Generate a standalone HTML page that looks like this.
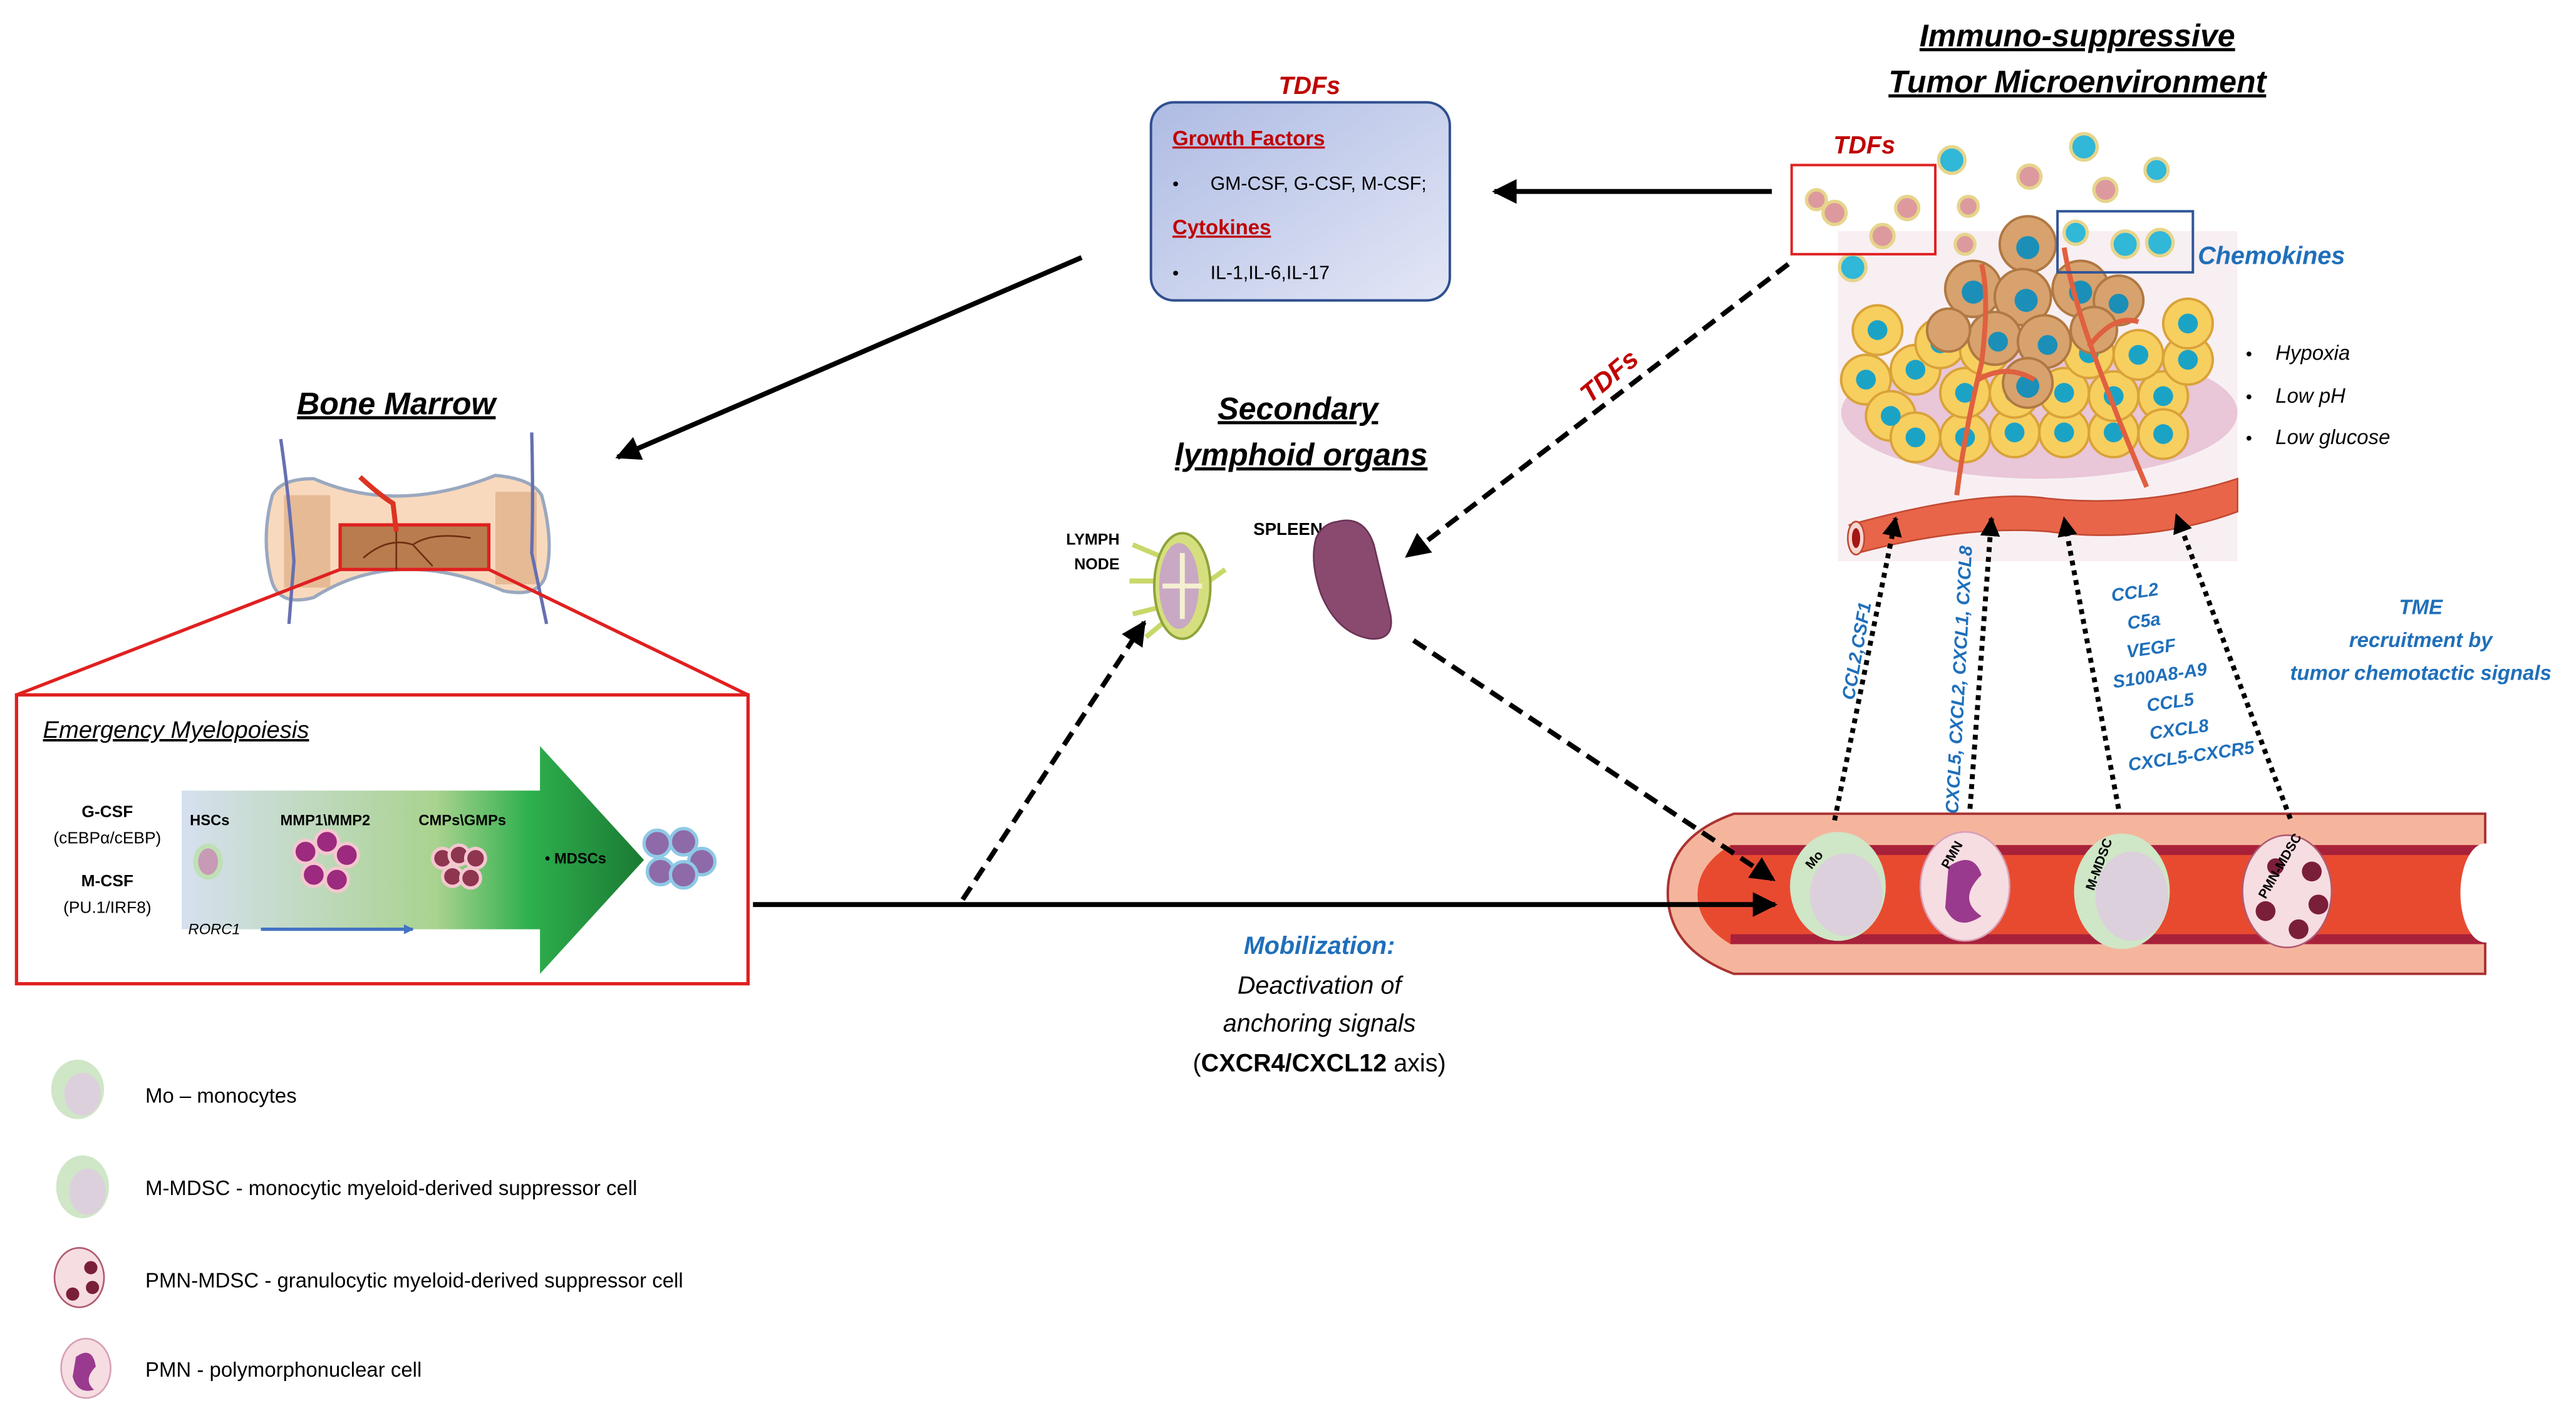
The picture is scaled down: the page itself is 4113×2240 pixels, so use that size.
<!DOCTYPE html>
<html><head><meta charset="utf-8"><style>
html,body{margin:0;padding:0;background:#fff;}
svg{display:block;}
text{font-family:"Liberation Sans Narrow","Liberation Sans",sans-serif;}
</style></head><body>
<svg width="4113" height="2240" viewBox="0 0 1560 850" preserveAspectRatio="none" xmlns="http://www.w3.org/2000/svg">
<defs>
<linearGradient id="tdf" x1="0" y1="0" x2="1" y2="1"><stop offset="0" stop-color="#aebbe3"/><stop offset="1" stop-color="#e3e7f6"/></linearGradient>
<linearGradient id="arr" x1="0" y1="0" x2="1" y2="0"><stop offset="0" stop-color="#d6e0ef"/><stop offset="0.55" stop-color="#a9d38f"/><stop offset="0.75" stop-color="#2fb04e"/><stop offset="1" stop-color="#1a7a33"/></linearGradient>
<marker id="ah" viewBox="0 0 10 10" refX="9" refY="5" markerWidth="5" markerHeight="5" orient="auto"><path d="M0,0 L10,5 L0,10z" fill="#000"/></marker>
<marker id="ahs" viewBox="0 0 10 10" refX="9" refY="5" markerWidth="4" markerHeight="4" orient="auto"><path d="M0,0 L10,5 L0,10z" fill="#000"/></marker>
<marker id="ahb" viewBox="0 0 10 10" refX="9" refY="5" markerWidth="3" markerHeight="3" orient="auto"><path d="M0,0 L10,5 L0,10z" fill="#4472c4"/></marker>
</defs>

<!-- TDFs box -->
<text x="793" y="57" fill="#c00000" font-size="15" font-weight="bold" font-style="italic" text-anchor="middle">TDFs</text>
<rect x="697" y="62" width="181" height="120" rx="14" fill="url(#tdf)" stroke="#2f4f8f" stroke-width="1.5"/>
<text x="710" y="88" fill="#c00000" font-size="12.5" font-weight="bold" text-decoration="underline">Growth Factors</text>
<text x="710" y="115" font-size="11">•</text><text x="733" y="115" font-size="11.5">GM-CSF, G-CSF, M-CSF;</text>
<text x="710" y="142" fill="#c00000" font-size="12.5" font-weight="bold" text-decoration="underline">Cytokines</text>
<text x="710" y="169" font-size="11">•</text><text x="733" y="169" font-size="11.5">IL-1,IL-6,IL-17</text>

<!-- Titles -->
<text x="1258" y="28" font-size="19" font-weight="bold" font-style="italic" text-anchor="middle" text-decoration="underline">Immuno-suppressive </text>
<text x="1258" y="56" font-size="19" font-weight="bold" font-style="italic" text-anchor="middle" text-decoration="underline">Tumor Microenvironment </text>
<text x="240" y="251" font-size="19" font-weight="bold" font-style="italic" text-anchor="middle" text-decoration="underline">Bone Marrow</text>
<text x="786" y="254" font-size="19" font-weight="bold" font-style="italic" text-anchor="middle" text-decoration="underline">Secondary </text>
<text x="788" y="282" font-size="19" font-weight="bold" font-style="italic" text-anchor="middle" text-decoration="underline">lymphoid organs</text>

<!-- Bone -->
<path d="M165,300 Q170,290 190,290 Q240,312 300,288 Q322,290 328,300 Q336,330 330,350 Q325,362 305,358 Q240,330 190,362 Q168,368 164,350 Q158,325 165,300z" fill="#f8d9bd" stroke="#9aa8bf" stroke-width="2"/>
<rect x="172" y="300" width="28" height="56" fill="#d9a57a" opacity="0.6"/>
<rect x="300" y="298" width="25" height="56" fill="#d9a57a" opacity="0.6"/>
<rect x="206" y="318" width="90" height="27" fill="#b97c4f" stroke="#e02020" stroke-width="2"/>
<path d="M220,338 Q235,325 250,330 Q262,322 285,326 M240,320 L240,345 M250,330 L262,343" stroke="#6b3010" stroke-width="1" fill="none"/>
<path d="M218,289 Q230,300 238,305 L240,322" stroke="#d32" stroke-width="3" fill="none"/>
<path d="M170,266 Q175,300 178,340 L175,378" stroke="#6670b0" stroke-width="2" fill="none"/>
<path d="M322,262 Q323,300 322,335 L331,378" stroke="#6670b0" stroke-width="2" fill="none"/>
<line x1="206" y1="345" x2="10" y2="421" stroke="#e02020" stroke-width="2"/>
<line x1="296" y1="345" x2="453" y2="421" stroke="#e02020" stroke-width="2"/>

<!-- Emergency box -->
<rect x="10" y="421" width="443" height="175" fill="#fff" stroke="#e02020" stroke-width="2"/>
<text x="26" y="447" font-size="14.5" font-style="italic" text-decoration="underline">Emergency Myelopoiesis</text>
<path d="M110,479 L327,479 L327,452 L390,521 L327,590 L327,563 L110,563z" fill="url(#arr)"/>
<text x="65" y="495" font-size="10" font-weight="bold" text-anchor="middle">G-CSF</text>
<text x="65" y="511" font-size="10" text-anchor="middle">(cEBPα/cEBP)</text>
<text x="65" y="537" font-size="10" font-weight="bold" text-anchor="middle">M-CSF</text>
<text x="65" y="553" font-size="10" text-anchor="middle">(PU.1/IRF8)</text>
<text x="127" y="500" font-size="9" font-weight="bold" text-anchor="middle">HSCs</text>
<text x="197" y="500" font-size="9" font-weight="bold" text-anchor="middle">MMP1\MMP2</text>
<text x="280" y="500" font-size="9" font-weight="bold" text-anchor="middle">CMPs\GMPs</text>
<text x="330" y="523" font-size="9" font-weight="bold">• MDSCs</text>
<text x="114" y="566" font-size="9" font-style="italic">RORC1</text>
<line x1="158" y1="563" x2="250" y2="563" stroke="#4472c4" stroke-width="2" marker-end="url(#ahb)"/>
<ellipse cx="126" cy="522" rx="9" ry="11" fill="#bfe0b5"/><ellipse cx="126" cy="522" rx="6" ry="8" fill="#c79ab5"/>
<g fill="#9c2a7e" stroke="#f4c7cf" stroke-width="2">
<circle cx="185" cy="516" r="7"/><circle cx="198" cy="510" r="7"/><circle cx="210" cy="518" r="7"/><circle cx="190" cy="530" r="7"/><circle cx="204" cy="533" r="7"/></g>
<g fill="#8e3550" stroke="#f4c7cf" stroke-width="2">
<circle cx="268" cy="520" r="6"/><circle cx="278" cy="518" r="6"/><circle cx="288" cy="520" r="6"/><circle cx="274" cy="531" r="6"/><circle cx="285" cy="532" r="6"/></g>
<g fill="#8e6aa8" stroke="#8fc9e6" stroke-width="2">
<circle cx="398" cy="511" r="8"/><circle cx="414" cy="510" r="8"/><circle cx="425" cy="522" r="8"/><circle cx="400" cy="528" r="8"/><circle cx="414" cy="530" r="8"/></g>

<!-- Lymph node & spleen -->
<text x="678" y="330" font-size="9.5" font-weight="bold" text-anchor="end">LYMPH</text>
<text x="678" y="345" font-size="9.5" font-weight="bold" text-anchor="end">NODE</text>
<g stroke="#c9d86a" stroke-width="3"><line x1="686" y1="330" x2="705" y2="338"/><line x1="684" y1="352" x2="700" y2="352"/><line x1="686" y1="372" x2="702" y2="368"/><line x1="694" y1="386" x2="706" y2="376"/><line x1="728" y1="355" x2="742" y2="345"/></g>
<ellipse cx="716" cy="355" rx="17" ry="32" fill="#d6df7e" stroke="#8fa33a" stroke-width="1.5"/>
<ellipse cx="714" cy="355" rx="12" ry="26" fill="#c9a8c4"/>
<path d="M704,355 L728,355 M716,335 L716,375" stroke="#f3f0d0" stroke-width="3"/>
<text x="780" y="324" font-size="10.5" font-weight="bold" text-anchor="middle">SPLEEN</text>
<path d="M810,316 Q826,312 832,330 Q838,355 842,372 Q845,388 830,387 Q810,384 800,360 Q793,340 797,326 Q801,317 810,316z" fill="#8a4a70" stroke="#6b3356" stroke-width="1"/>

<!-- Mobilization text -->
<text x="799" y="578" font-size="15" font-weight="bold" font-style="italic" fill="#1f6fba" text-anchor="middle">Mobilization:</text>
<text x="799" y="602" font-size="15" font-style="italic" text-anchor="middle">Deactivation of</text>
<text x="799" y="625" font-size="15" font-style="italic" text-anchor="middle">anchoring signals</text>
<text x="799" y="649" font-size="15" text-anchor="middle">(<tspan font-weight="bold">CXCR4/CXCL12</tspan> axis)</text>

<!-- Tumor -->
<rect x="1113" y="140" width="242" height="200" fill="#f8eff3"/>
<ellipse cx="1235" cy="250" rx="120" ry="40" fill="#e9c6d8"/>
<g fill="#f7cf5e" stroke="#d9a23a" stroke-width="1.5">
<circle cx="1137" cy="200" r="15"/><circle cx="1160" cy="224" r="15"/><circle cx="1130" cy="230" r="15"/><circle cx="1145" cy="252" r="15"/><circle cx="1160" cy="265" r="15"/><circle cx="1190" cy="265" r="15"/><circle cx="1220" cy="262" r="15"/><circle cx="1250" cy="262" r="15"/><circle cx="1280" cy="262" r="15"/><circle cx="1190" cy="238" r="15"/><circle cx="1220" cy="238" r="15"/><circle cx="1250" cy="238" r="15"/><circle cx="1280" cy="240" r="15"/><circle cx="1310" cy="240" r="15"/><circle cx="1175" cy="208" r="15"/><circle cx="1295" cy="215" r="15"/><circle cx="1325" cy="218" r="15"/><circle cx="1325" cy="196" r="15"/><circle cx="1310" cy="263" r="15"/><circle cx="1202" cy="212" r="15"/><circle cx="1265" cy="214" r="15"/>
</g>
<g fill="#1ba3c6">
<circle cx="1137" cy="200" r="6"/><circle cx="1160" cy="224" r="6"/><circle cx="1130" cy="230" r="6"/><circle cx="1145" cy="252" r="6"/><circle cx="1160" cy="265" r="6"/><circle cx="1190" cy="265" r="6"/><circle cx="1220" cy="262" r="6"/><circle cx="1250" cy="262" r="6"/><circle cx="1280" cy="262" r="6"/><circle cx="1190" cy="238" r="6"/><circle cx="1220" cy="238" r="6"/><circle cx="1250" cy="238" r="6"/><circle cx="1280" cy="240" r="6"/><circle cx="1310" cy="240" r="6"/><circle cx="1175" cy="208" r="6"/><circle cx="1295" cy="215" r="6"/><circle cx="1325" cy="218" r="6"/><circle cx="1325" cy="196" r="6"/><circle cx="1310" cy="263" r="6"/><circle cx="1202" cy="212" r="6"/><circle cx="1265" cy="214" r="6"/>
</g>
<g fill="#d7a26e" stroke="#b07842" stroke-width="1.5">
<circle cx="1228" cy="148" r="17"/><circle cx="1195" cy="175" r="17"/><circle cx="1225" cy="180" r="17"/><circle cx="1260" cy="175" r="17"/><circle cx="1283" cy="182" r="15"/><circle cx="1208" cy="205" r="16"/><circle cx="1238" cy="207" r="16"/><circle cx="1268" cy="200" r="14"/><circle cx="1180" cy="200" r="13"/><circle cx="1228" cy="232" r="15"/>
</g>
<g fill="#1b8fb7"><circle cx="1228" cy="150" r="7"/><circle cx="1195" cy="177" r="7"/><circle cx="1227" cy="182" r="7"/><circle cx="1260" cy="177" r="7"/><circle cx="1283" cy="184" r="6"/><circle cx="1210" cy="207" r="6"/><circle cx="1240" cy="209" r="6"/><circle cx="1228" cy="234" r="7"/></g>
<g stroke="#e0603f" stroke-width="3" fill="none">
<path d="M1185,300 Q1190,260 1200,220 Q1205,180 1200,160"/><path d="M1198,230 Q1215,220 1232,230"/>
<path d="M1300,295 Q1285,260 1270,220 Q1255,180 1250,150"/><path d="M1265,210 Q1280,190 1295,195"/>
</g>
<path d="M1120,318 Q1200,296 1240,302 Q1300,308 1355,290 L1355,310 Q1300,330 1240,322 Q1190,318 1125,335z" fill="#e8654a" stroke="#c24a33" stroke-width="1"/>
<ellipse cx="1124" cy="326" rx="5" ry="10" fill="#f6d6d0" stroke="#c24a33"/><ellipse cx="1124" cy="326" rx="2.5" ry="6" fill="#a51515"/>
<g stroke="#e6d58b" stroke-width="2">
<circle cx="1111" cy="129" r="7" fill="#dd9a9e"/><circle cx="1155" cy="126" r="7" fill="#dd9a9e"/><circle cx="1100" cy="121" r="6" fill="#dd9a9e"/><circle cx="1140" cy="143" r="7" fill="#dd9a9e"/><circle cx="1192" cy="125" r="6" fill="#dd9a9e"/><circle cx="1229" cy="107" r="7" fill="#dd9a9e"/><circle cx="1275" cy="115" r="7" fill="#dd9a9e"/><circle cx="1190" cy="148" r="6" fill="#dd9a9e"/>
<circle cx="1182" cy="97" r="8" fill="#31b7d8"/><circle cx="1262" cy="89" r="8" fill="#31b7d8"/><circle cx="1306" cy="103" r="7" fill="#31b7d8"/><circle cx="1122" cy="162" r="8" fill="#31b7d8"/><circle cx="1257" cy="141" r="7" fill="#31b7d8"/><circle cx="1287" cy="148" r="8" fill="#31b7d8"/><circle cx="1308" cy="147" r="8" fill="#31b7d8"/>
</g>
<rect x="1085" y="100" width="87" height="54" fill="none" stroke="#e02020" stroke-width="1.5"/>
<text x="1129" y="93" font-size="15" font-weight="bold" font-style="italic" fill="#c00000" text-anchor="middle">TDFs</text>
<rect x="1246" y="128" width="82" height="37" fill="none" stroke="#2f5597" stroke-width="1.5"/>
<text x="1331" y="160" font-size="15" font-weight="bold" font-style="italic" fill="#1f6fba">Chemokines</text>
<text x="1360" y="218" font-size="11">•</text><text x="1378" y="218" font-size="12.5" font-style="italic">Hypoxia</text>
<text x="1360" y="244" font-size="11">•</text><text x="1378" y="244" font-size="12.5" font-style="italic">Low pH</text>
<text x="1360" y="269" font-size="11">•</text><text x="1378" y="269" font-size="12.5" font-style="italic">Low glucose</text>

<!-- Vessel -->
<path d="M1050,493 L1505,493 L1505,590 L1050,590 Q1010,575 1010,541 Q1010,507 1050,493z" fill="#f5b59d" stroke="#a33" stroke-width="1.5"/>
<path d="M1048,512 L1505,512 L1505,572 L1048,572 Q1028,560 1028,542 Q1028,524 1048,512z" fill="#e84a30"/>
<rect x="1048" y="512" width="457" height="6" fill="#a8213a"/>
<rect x="1048" y="566" width="457" height="6" fill="#a8213a"/>
<ellipse cx="1505" cy="541" rx="15" ry="30" fill="#fff"/>
<ellipse cx="1113" cy="537" rx="29" ry="33" fill="#cfe6c7"/><ellipse cx="1118" cy="542" rx="22" ry="25" fill="#dcd0dc"/>
<text transform="translate(1097,527) rotate(-50)" font-size="8" font-weight="bold">Mo</text>
<ellipse cx="1190" cy="537" rx="27" ry="33" fill="#f6dde2" stroke="#d8a0b5"/>
<path d="M1180,525 Q1195,515 1200,530 Q1185,545 1200,555 Q1185,565 1178,550z" fill="#9a3a8e"/>
<text transform="translate(1180,527) rotate(-60)" font-size="8" font-weight="bold">PMN</text>
<ellipse cx="1285" cy="540" rx="29" ry="35" fill="#cfe6c7"/><ellipse cx="1291" cy="543" rx="22" ry="27" fill="#dcd0dc"/>
<text transform="translate(1268,540) rotate(-70)" font-size="8" font-weight="bold">M-MDSC</text>
<ellipse cx="1385" cy="540" rx="27" ry="34" fill="#f6dde2" stroke="#b05a70"/>
<g fill="#7a1f3a"><circle cx="1400" cy="528" r="6"/><circle cx="1404" cy="548" r="6"/><circle cx="1392" cy="563" r="6"/><circle cx="1372" cy="552" r="6"/><circle cx="1378" cy="525" r="5"/></g>
<text transform="translate(1372,545) rotate(-60)" font-size="8" font-weight="bold">PMN-MDSC</text>

<!-- arrows (on top) -->
<line x1="1073" y1="116" x2="905" y2="116" stroke="#000" stroke-width="3" marker-end="url(#ah)"/>
<line x1="655" y1="156" x2="374" y2="277" stroke="#000" stroke-width="3" marker-end="url(#ah)"/>
<line x1="456" y1="548" x2="1075" y2="548" stroke="#000" stroke-width="3" marker-end="url(#ah)"/>
<line x1="1083" y1="160" x2="852" y2="337" stroke="#000" stroke-width="3" stroke-dasharray="9,5" marker-end="url(#ah)"/>
<line x1="583" y1="545" x2="693" y2="377" stroke="#000" stroke-width="3" stroke-dasharray="9,5" marker-end="url(#ah)"/>
<line x1="856" y1="388" x2="1074" y2="533" stroke="#000" stroke-width="3" stroke-dasharray="9,5" marker-end="url(#ah)"/>
<text x="0" y="0" transform="translate(978,232) rotate(-40)" fill="#c00000" font-size="16" font-weight="bold" font-style="italic" text-anchor="middle">TDFs</text>
<g stroke="#000" stroke-width="3" stroke-dasharray="3,3" fill="none">
<line x1="1111" y1="497" x2="1148" y2="314" marker-end="url(#ahs)"/>
<line x1="1193" y1="490" x2="1206" y2="314" marker-end="url(#ahs)"/>
<line x1="1283" y1="490" x2="1250" y2="314" marker-end="url(#ahs)"/>
<line x1="1387" y1="496" x2="1318" y2="312" marker-end="url(#ahs)"/>
</g>
<g fill="#1f6fba" font-weight="bold" font-style="italic" font-size="11">
<text transform="translate(1128,395) rotate(-80)" text-anchor="middle">CCL2,CSF1</text>
<text transform="translate(1190,412) rotate(-87)" text-anchor="middle">CXCL5, CXCL2, CXCL1, CXCL8</text>
<g transform="rotate(-8,1300,410)" text-anchor="middle">
<text x="1300" y="362">CCL2</text><text x="1303" y="380">C5a</text><text x="1305" y="397">VEGF</text><text x="1308" y="414">S100A8-A9</text><text x="1312" y="431">CCL5</text><text x="1315" y="448">CXCL8</text><text x="1320" y="465">CXCL5-CXCR5</text></g>
<text x="1466" y="372" text-anchor="middle" font-size="12.5">TME</text>
<text x="1466" y="392" text-anchor="middle" font-size="12.5">recruitment by</text>
<text x="1466" y="412" text-anchor="middle" font-size="12.5">tumor chemotactic signals</text>
</g>

<!-- Legend -->
<ellipse cx="47" cy="660" rx="16" ry="18" fill="#cfe6c7"/><ellipse cx="50" cy="663" rx="11" ry="13" fill="#dcd0dc"/>
<text x="88" y="668" font-size="12.5">Mo – monocytes</text>
<ellipse cx="50" cy="719" rx="16" ry="19" fill="#cfe6c7"/><ellipse cx="53" cy="722" rx="11" ry="14" fill="#dcd0dc"/>
<text x="88" y="724" font-size="12.5">M-MDSC - monocytic myeloid-derived suppressor cell</text>
<ellipse cx="48" cy="774" rx="15" ry="18" fill="#f6dde2" stroke="#b05a70"/><circle cx="55" cy="768" r="4" fill="#7a1f3a"/><circle cx="56" cy="780" r="4" fill="#7a1f3a"/><circle cx="44" cy="784" r="4" fill="#7a1f3a"/>
<text x="88" y="780" font-size="12.5">PMN-MDSC - granulocytic myeloid-derived suppressor cell</text>
<ellipse cx="52" cy="829" rx="15" ry="18" fill="#f6dde2" stroke="#d8a0b5"/><path d="M46,822 Q56,815 58,828 Q50,836 57,842 Q47,845 44,834z" fill="#9a3a8e"/>
<text x="88" y="834" font-size="12.5">PMN - polymorphonuclear cell</text>
</svg>
</body></html>
